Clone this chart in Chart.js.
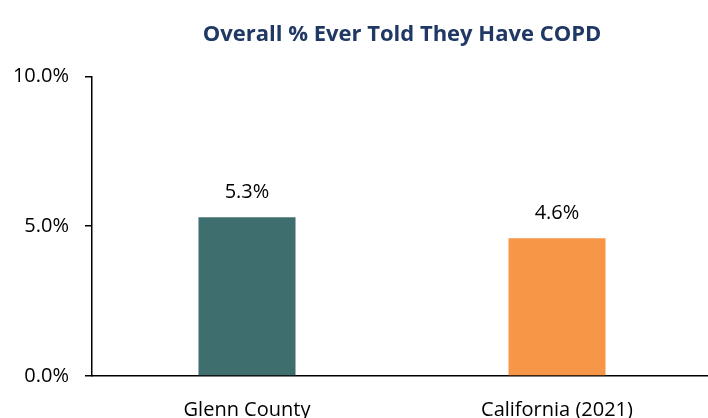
<!DOCTYPE html>
<html>
<head>
<meta charset="utf-8">
<title>COPD</title>
<script src="https://cdn.jsdelivr.net/npm/chart.js@4.4.0/dist/chart.umd.min.js"></script>
<style>
  html, body { margin: 0; padding: 0; background: #fff; overflow: hidden; }
  #wrap { width: 796px; height: 418px; }
</style>
</head>
<body>
<div id="wrap"><canvas id="myChart"></canvas></div>
<script>
var labels = ["Glenn County", "California (2021)"];
var values = [5.3, 4.6];
var barColors = ["#3F6E6E", "#F79646"];
var yTicks = [0, 5, 10];

// value labels above each bar
var valueLabels = {
  id: "valueLabels",
  afterDatasetsDraw: function(chart) {
    var ctx = chart.ctx;
    var meta = chart.getDatasetMeta(0);
    ctx.save();
    ctx.font = "20px 'Open Sans'";
    ctx.fillStyle = "#000";
    ctx.textAlign = "center";
    ctx.textBaseline = "alphabetic";
    meta.data.forEach(function(bar, i) {
      ctx.fillText(values[i].toFixed(1) + "%", bar.x, bar.y - 19);
    });
    ctx.restore();
  }
};

var ctx = document.getElementById("myChart").getContext("2d");
var myChart = new Chart(ctx, {
  type: "bar",
  data: {
    labels: labels,
    datasets: [{
      data: values,
      backgroundColor: barColors,
      borderWidth: 0,
      barPercentage: 0.313,
      categoryPercentage: 1
    }]
  },
  options: {
    responsive: true,
    maintainAspectRatio: false,
    animation: false,
    layout: { padding: { left: 0, right: 84, top: 0, bottom: 0 } },
    plugins: {
      legend: { display: false },
      tooltip: { enabled: false },
      title: {
        display: true,
        fullSize: false, // centre over the plot area
        text: "Overall % Ever Told They Have COPD",
        color: "#203864",
        font: { family: "'Open Sans'", size: 22, weight: "bold" },
        padding: { top: 22, bottom: 28 }
      }
    },
    scales: {
      x: {
        afterFit: function(scale) { scale.height = 42; },
        grid: { display: false, drawTicks: false },
        border: { display: true, color: "#000", width: 1.5 },
        ticks: {
          color: "#000",
          padding: 22,
          maxRotation: 0,
          font: { family: "'Open Sans'", size: 20 }
        }
      },
      y: {
        min: 0,
        max: 10,
        afterBuildTicks: function(scale) {
          scale.ticks = yTicks.map(function(v) { return { value: v }; });
        },
        afterFit: function(scale) { scale.width = 92; },
        grid: { drawOnChartArea: false, drawTicks: true, tickLength: 7, color: "#000", lineWidth: 1.5 },
        border: { display: true, color: "#000", width: 1.5 },
        ticks: {
          color: "#000",
          padding: 16,
          font: { family: "'Open Sans'", size: 20 },
          callback: function(v) { return v.toFixed(1) + "%"; }
        }
      }
    }
  },
  plugins: [valueLabels]
});
</script>
</body>
</html>
